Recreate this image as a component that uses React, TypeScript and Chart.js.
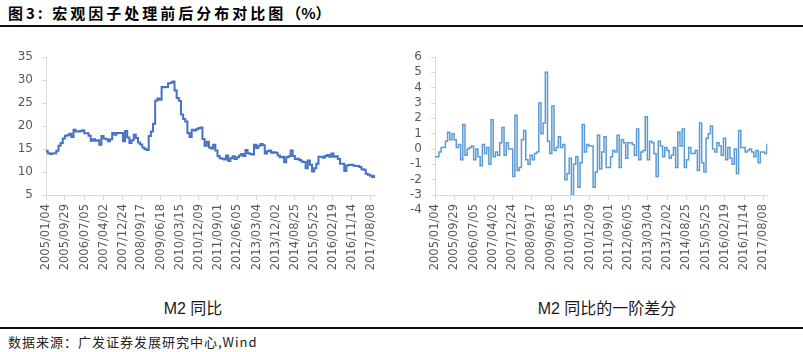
import React, { useEffect, useRef } from "react";
import { Chart, registerables } from "chart.js";

Chart.register(...registerables);

// ---- data ----
const TICK_LABELS = [
  "2005/01/04", "2005/09/29", "2006/07/05", "2007/04/02", "2007/12/24", "2008/09/17",
  "2009/06/18", "2010/03/15", "2010/12/09", "2011/09/01", "2012/06/05", "2013/03/04",
  "2013/12/02", "2014/08/25", "2015/05/25", "2016/02/19", "2016/11/14", "2017/08/08",
];

// M2 YoY (%), monthly, first value = 2004/12
const M2_YOY_FIRST_MONTH = -1; // months after 2005/01
const M2_YOY = [
  14.6,
  14.1, 13.9, 14.0, 14.1, 14.6, 15.7, 16.3, 17.3, 17.9, 18.0, 18.3, 17.6,
  19.2, 18.8, 18.8, 18.9, 19.1, 18.4, 18.4, 17.9, 16.8, 17.1, 16.8, 16.9,
  15.9, 17.8, 17.3, 17.1, 16.7, 17.1, 18.5, 18.1, 18.5, 18.5, 18.5, 16.7,
  18.9, 17.5, 16.3, 16.9, 18.1, 17.4, 16.4, 16.0, 15.3, 15.0, 14.8, 17.8,
  18.8, 20.5, 25.5, 26.0, 25.7, 28.5, 28.4, 28.5, 29.3, 29.4, 29.7, 27.7,
  26.1, 25.5, 22.5, 21.5, 21.0, 18.5, 17.6, 19.2, 19.0, 19.3, 19.5, 19.7,
  17.2, 15.7, 16.6, 15.3, 15.1, 15.9, 14.7, 13.5, 13.0, 12.9, 12.7, 13.6,
  12.4, 13.0, 13.4, 12.8, 13.2, 13.6, 13.9, 13.5, 14.8, 14.1, 13.9, 13.8,
  15.9, 15.2, 15.7, 16.1, 15.8, 14.0, 14.5, 14.7, 14.2, 14.3, 14.2, 13.6,
  13.2, 13.3, 12.1, 13.2, 13.4, 14.7, 13.5, 12.8, 12.9, 12.6, 12.3, 12.2,
  10.8, 12.5, 11.6, 10.1, 10.8, 11.8, 13.3, 13.3, 13.1, 13.5, 13.7, 13.3,
  14.0, 13.3, 13.4, 12.8, 11.8, 11.8, 10.2, 11.4, 11.5, 11.6, 11.4, 11.3,
  11.3, 11.1, 10.6, 10.5, 9.6, 9.4, 9.2, 8.9, 9.2,
];

// first difference of M2 YoY, monthly, first value = 2005/01
const M2_DIFF_FIRST_MONTH = 0;
const M2_DIFF = [
  -0.5, -0.2, 0.1, 0.1, 0.5, 1.1, 0.6, 1.0, 0.6, 0.1, 0.3, -0.7,
  1.6, -0.4, 0.0, 0.1, 0.2, -0.7, 0.0, -0.5, -1.1, 0.3, -0.3, 0.1,
  -1.0, 1.9, -0.5, -0.2, -0.4, 0.4, 1.4, -0.4, 0.4, 0.0, 0.0, -1.8,
  2.2, -1.4, -1.2, 0.6, 1.2, -0.7, -1.0, -0.4, -0.7, -0.3, -0.2, 3.0,
  1.0, 1.7, 5.0, 0.5, -0.3, 2.8, -0.1, 0.1, 0.8, 0.1, 0.3, -2.0,
  -1.6, -0.6, -3.0, -1.0, -0.5, -2.5, -0.9, 1.6, -0.2, 0.3, 0.2, 0.2,
  -2.5, -1.5, 0.9, -1.3, -0.2, 0.8, -1.2, -1.2, -0.5, -0.1, -0.2, 0.9,
  -1.2, 0.6, 0.4, -0.6, 0.4, 0.4, 0.3, -0.4, 1.3, -0.7, -0.2, -0.1,
  2.1, -0.7, 0.5, 0.4, -0.3, -1.8, 0.5, 0.2, -0.5, 0.1, -0.1, -0.6,
  -0.4, 0.1, -1.2, 1.1, 0.2, 1.3, -1.2, -0.7, 0.1, -0.3, -0.3, -0.1,
  -1.4, 1.7, -0.9, -1.5, 0.7, 1.0, 1.5, 0.0, -0.2, 0.4, 0.2, -0.4,
  0.7, -0.7, 0.1, -0.6, -1.0, 0.0, -1.6, 1.2, 0.1, 0.1, -0.2, -0.1,
  0.0, -0.2, -0.5, -0.1, -0.9, -0.2, -0.2, -0.3, 0.3,
];

const LEFT_Y_TICKS = [5, 10, 15, 20, 25, 30, 35];
const RIGHT_Y_TICKS = [-4, -3, -2, -1, 0, 1, 2, 3, 4, 5, 6];

// ---- helpers ----
const X_MIN = 0.1;
const X_MAX = 153.2;
const SHIFT = 0.9;

function monthsOf(label: string) {
  const [y, m, d] = label.split("/").map(Number);
  return (y - 2005) * 12 + (m - 1) + (d - 1) / 30;
}

function toPoints(values: number[], firstMonth: number) {
  const pts = values.map((v, i) => ({ x: firstMonth + i + SHIFT, y: v }));
  if (pts[0].x > X_MIN) pts.unshift({ x: X_MIN, y: values[0] });
  pts.push({ x: X_MAX, y: values[values.length - 1] });
  return pts;
}

const AXIS_GRAY = "#d9d9d9";
const LABEL_GRAY = "#595959";

function makeConfig(
  data: { x: number; y: number }[],
  color: string,
  width: number,
  yMin: number,
  yMax: number,
  yTicks: number[],
  leftWidth: number,
  rightPad: number
): any {
  return {
    type: "line",
    data: {
      datasets: [
        {
          data,
          borderColor: color,
          borderWidth: width,
          stepped: "before",
          pointRadius: 0,
          fill: false,
          tension: 0,
        },
      ],
    },
    options: {
      animation: false,
      responsive: false,
      maintainAspectRatio: false,
      events: [],
      layout: { padding: { top: 17, right: rightPad, left: 0, bottom: 0 } },
      plugins: { legend: { display: false }, tooltip: { enabled: false } },
      scales: {
        x: {
          type: "linear",
          min: X_MIN,
          max: X_MAX,
          afterBuildTicks: (s: any) => {
            s.ticks = TICK_LABELS.map((l) => ({ value: monthsOf(l) }));
          },
          afterFit: (s: any) => {
            s.height = 90;
          },
          grid: { display: true, drawOnChartArea: false, drawTicks: true, tickLength: 5, color: AXIS_GRAY },
          border: { display: true, color: AXIS_GRAY, width: 1 },
          ticks: {
            autoSkip: false,
            maxRotation: 90,
            minRotation: 90,
            padding: 4,
            color: LABEL_GRAY,
            font: { family: "'DejaVu Sans'", size: 11.5 },
            callback: (_v: any, i: number) => TICK_LABELS[i],
          },
        },
        y: {
          type: "linear",
          min: yMin,
          max: yMax,
          afterBuildTicks: (s: any) => {
            s.ticks = yTicks.map((v) => ({ value: v }));
          },
          afterFit: (s: any) => {
            s.width = leftWidth;
          },
          grid: { display: true, drawOnChartArea: false, drawTicks: true, tickLength: 4, color: AXIS_GRAY },
          border: { display: true, color: AXIS_GRAY, width: 1 },
          ticks: {
            autoSkip: false,
            padding: 9,
            color: LABEL_GRAY,
            font: { family: "'DejaVu Sans'", size: 12 },
          },
        },
      },
    },
  };
}

function ChartBox(props: { config: any; left: number; width: number }) {
  const ref = useRef<HTMLCanvasElement | null>(null);
  useEffect(() => {
    if (!ref.current) return;
    const chart = new Chart(ref.current, props.config);
    return () => chart.destroy();
  }, []);
  return (
    <canvas
      ref={ref}
      width={props.width}
      height={245}
      style={{ position: "absolute", left: props.left, top: 40, width: props.width, height: 245 }}
    />
  );
}

export default function App() {
  const leftCfg = makeConfig(toPoints(M2_YOY, M2_YOY_FIRST_MONTH), "#4472C4", 2, 5, 35, LEFT_Y_TICKS, 46, 25);
  const rightCfg = makeConfig(toPoints(M2_DIFF, M2_DIFF_FIRST_MONTH), "#5B9BD5", 1.5, -3, 6, RIGHT_Y_TICKS, 35, 35.5);
  return (
    <div
      style={{
        position: "fixed",
        left: 0,
        top: 0,
        width: 803,
        height: 352,
        background: "#fff",
        overflow: "hidden",
      }}
    >
      <div
        style={{
          position: "absolute",
          left: 8,
          top: 3,
          fontFamily: "'Noto Sans CJK SC', sans-serif",
          fontWeight: 700,
          fontSize: 15,
          lineHeight: "20px",
          letterSpacing: 3,
          color: "#000",
          whiteSpace: "nowrap",
        }}
      >
        图3: 宏观因子处理前后分布对比图<span style={{ letterSpacing: 0 }}>（%）</span>
      </div>
      <div style={{ position: "absolute", left: 0, top: 25, width: 803, height: 2, background: "#111" }} />
      <ChartBox config={leftCfg} left={0} width={400} />
      <ChartBox config={rightCfg} left={400} width={403} />
      <div
        style={{
          position: "absolute",
          left: 93,
          top: 300,
          width: 200,
          textAlign: "center",
          fontFamily: "'Liberation Sans', 'Noto Sans CJK SC', sans-serif",
          fontSize: 16,
          lineHeight: "18px",
          color: "#1a1a1a",
          whiteSpace: "nowrap",
        }}
      >
        M2 同比
      </div>
      <div
        style={{
          position: "absolute",
          left: 507,
          top: 300,
          width: 200,
          textAlign: "center",
          fontFamily: "'Liberation Sans', 'Noto Sans CJK SC', sans-serif",
          fontSize: 16,
          lineHeight: "18px",
          color: "#1a1a1a",
          whiteSpace: "nowrap",
        }}
      >
        M2 同比的一阶差分
      </div>
      <div style={{ position: "absolute", left: 0, top: 327, width: 803, height: 1.5, background: "#111" }} />
      <div
        style={{
          position: "absolute",
          left: 8,
          top: 334,
          fontFamily: "'Noto Sans CJK SC', sans-serif",
          fontSize: 13,
          lineHeight: "16px",
          letterSpacing: 1,
          color: "#222",
          whiteSpace: "nowrap",
        }}
      >
        数据来源：广发证券发展研究中心,Wind
      </div>
    </div>
  );
}
